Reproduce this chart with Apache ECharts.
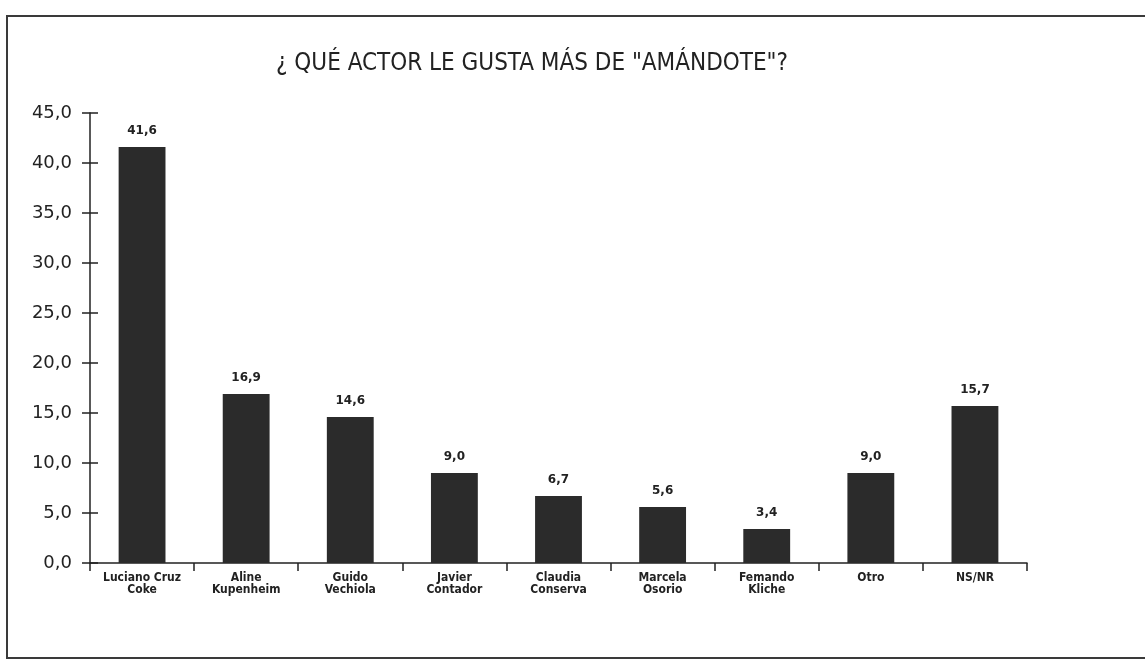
<!DOCTYPE html>
<html>
<head>
<meta charset="utf-8">
<script src="https://cdn.jsdelivr.net/npm/echarts@6/dist/echarts.min.js"></script>
<style>
  html, body { margin: 0; padding: 0; background: #fff; overflow: hidden; }
  #frame { position: absolute; left: 6px; top: 15px; width: 1160px; height: 644px;
           border: 2px solid #3a3a3a; box-sizing: border-box; }
  #main { position: absolute; left: 0; top: 0; width: 1145px; height: 672px; }
</style>
</head>
<body>
<div id="frame"></div>
<div id="main"></div>
<script>
var categories = ['Luciano Cruz\nCoke', 'Aline\nKupenheim', 'Guido\nVechiola', 'Javier\nContador',
	'Claudia\nConserva', 'Marcela\nOsorio', 'Femando\nKliche', 'Otro', 'NS/NR'];
var values = [41.6, 16.9, 14.6, 9.0, 6.7, 5.6, 3.4, 9.0, 15.7];
var titleText = '¿ QUÉ ACTOR LE GUSTA MÁS DE "AMÁNDOTE"?';

function comma(v) {
	return v.toFixed(1).replace('.', ',');
}

var chart = echarts.init(document.getElementById('main'));

var option = {
	backgroundColor: 'transparent',
	animation: false,
	title: {
		text: titleText,
		left: 527,
		textAlign: 'center',
		top: 47,
		textStyle: {
			fontFamily: 'DejaVu Sans Condensed',
			fontWeight: 'normal',
			fontSize: 24,
			color: '#222'
		}
	},
	grid: {
		left: 90,
		right: 118,
		top: 113,
		bottom: 109
	},
	xAxis: {
		type: 'category',
		data: categories,
		axisLine: { lineStyle: { color: '#222', width: 1.5 } },
		axisTick: { show: true, length: 8, lineStyle: { color: '#222', width: 1.5 } },
		axisLabel: {
			interval: 0,
			margin: 9,
			fontFamily: 'DejaVu Sans Condensed',
			fontWeight: 'bold',
			fontSize: 12,
			lineHeight: 12,
			color: '#222'
		}
	},
	yAxis: [
		{
			type: 'value',
			min: 0,
			max: 45,
			interval: 5,
			axisLine: { show: true, lineStyle: { color: '#222', width: 1.5 } },
			axisTick: { show: true, length: 8, lineStyle: { color: '#222', width: 1.5 } },
			splitLine: { show: false },
			axisLabel: {
				margin: 18,
				formatter: comma,
				fontFamily: 'DejaVu Sans',
				fontSize: 18,
				color: '#222'
			}
		},
		{
			type: 'value',
			position: 'left',
			min: 0,
			max: 45,
			interval: 5,
			axisLine: { show: false },
			axisTick: { show: true, inside: true, length: 8, lineStyle: { color: '#222', width: 1.5 } },
			splitLine: { show: false },
			axisLabel: { show: false }
		}
	],
	series: [
		{
			type: 'bar',
			data: values,
			barWidth: '45%',
			itemStyle: { color: '#2b2b2b' },
			label: {
				show: true,
				position: 'top',
				distance: 10,
				formatter: function (p) { return comma(p.value); },
				fontFamily: 'DejaVu Sans',
				fontWeight: 'bold',
				fontSize: 12,
				color: '#222'
			}
		}
	]
};

chart.setOption(option);
</script>
</body>
</html>
